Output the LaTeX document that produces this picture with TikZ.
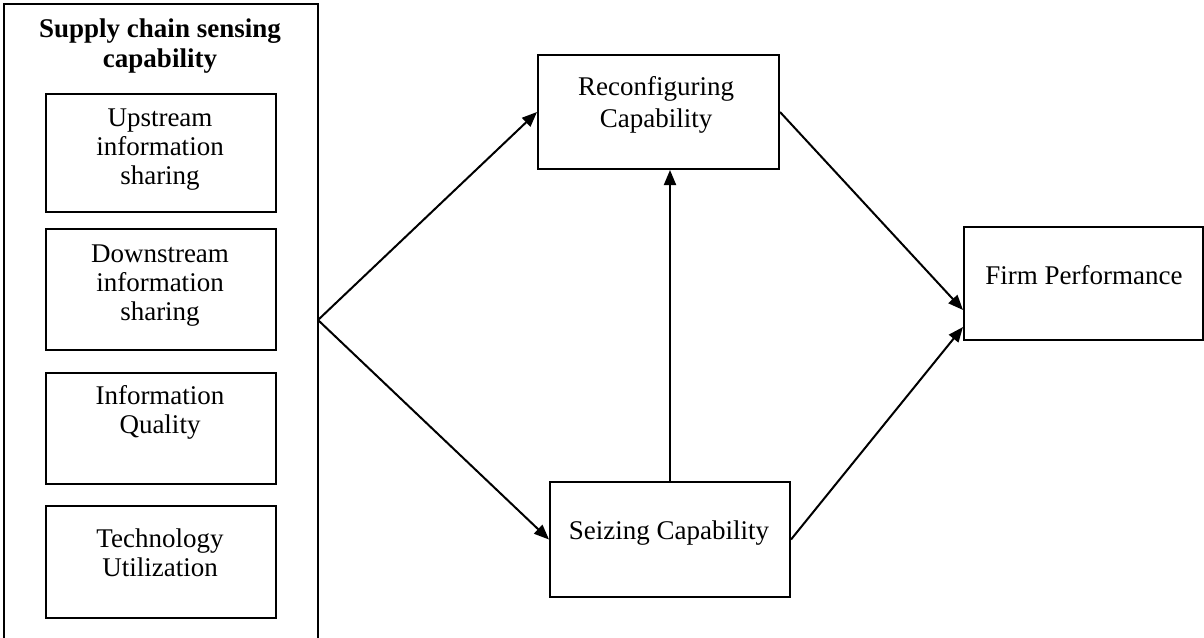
\documentclass[tikz,border=0pt]{standalone}
\usepackage{fontspec}
\setmainfont{Liberation Serif}
\usetikzlibrary{arrows.meta}
\begin{document}
\begin{tikzpicture}[x=1pt,y=-1pt,
  box/.style={draw,line width=2pt,inner sep=0pt,anchor=north west},
  txt/.style={align=center,inner sep=0pt,font=\fontsize{27}{29}\selectfont},
  ttl/.style={align=center,inner sep=0pt,font=\fontsize{27}{30}\selectfont\bfseries},
  link/.style={line width=2pt,-{Triangle[length=15pt,width=12pt]}}]
\useasboundingbox (0,0) rectangle (1204,637);
\clip (0,0) rectangle (1204,637);
% outer box (bottom runs off the page)
\node[box,minimum width=314pt,minimum height=680pt] (outer) at (3,3) {};
\node[ttl] (title) at (160,46) {Supply chain sensing\\capability};
% inner boxes
\node[box,minimum width=230pt,minimum height=118pt] (b1) at (45,93) {};
\node[txt] (t1) at (160,150) {Upstream\\information\\sharing};
\node[box,minimum width=230pt,minimum height=121pt] (b2) at (45,228) {};
\node[txt] (t2) at (160,286) {Downstream\\information\\sharing};
\node[box,minimum width=230pt,minimum height=111pt] (b3) at (45,372) {};
\node[txt] (t3) at (160,412) {Information\\Quality};
\node[box,minimum width=230pt,minimum height=112pt] (b4) at (45,505) {};
\node[txt] (t4) at (160,553) {Technology\\Utilization};
% right boxes
\node[box,minimum width=241pt,minimum height=114pt] (r) at (537,54) {};
\node[txt,font=\fontsize{27}{32}\selectfont] (rt) at (656,105) {Reconfiguring\\Capability};
\node[box,minimum width=240pt,minimum height=115pt] (s) at (549,481) {};
\node[txt] (st) at (669,533) {Seizing Capability};
\node[box,minimum width=239pt,minimum height=113pt] (f) at (963,226) {};
\node[txt] (ft) at (1084,275) {Firm Performance};
% connectors
\coordinate (src) at (318,320);
\coordinate (f1) at (963,310);
\coordinate (f2) at (963,327);
\draw[link] (src) -- (r.west);
\draw[link] (src) -- (s.west);
\draw[link] (s.north) -- (s.north |- r.south);
\draw[link] (r.east) -- (f1);
\draw[link] (s.east) -- (f2);
\end{tikzpicture}
\end{document}
